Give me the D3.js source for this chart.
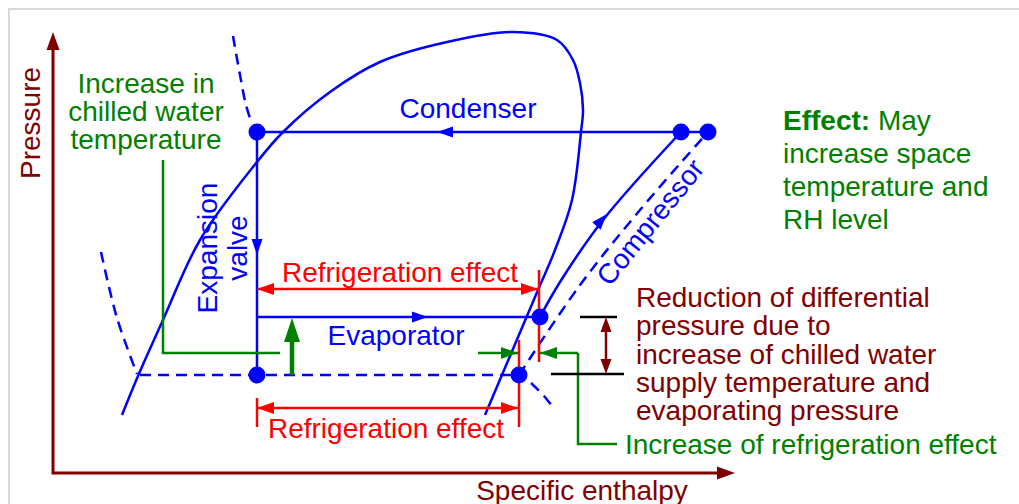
<!DOCTYPE html>
<html>
<head>
<meta charset="utf-8">
<script src="https://cdn.jsdelivr.net/npm/d3@7"></script>
<style>
  body { margin: 0; background: #fff; }
  svg { display: block; font-family: "Liberation Sans", Arial, sans-serif; }
</style>
</head>
<body>
<svg id="chart" width="1019" height="504"></svg>
<script>
// all values are in chart units: h = specific enthalpy, P = pressure

// saturation dome, left branch -> top -> right branch
const satDome = [[34.5, 29], [42.5, 48.5], [55, 76.5], [73.5, 116.5], [102, 155.5], [115, 170.5],
  [138.5, 190.5], [163.5, 205.5], [197, 215.5], [230, 220.5], [252, 216.5], [260, 206.5],
  [263.5, 195], [265, 181.5], [264, 170.5], [259.5, 136.5], [251, 111.5], [242.5, 91.5], [216, 29]];

// dashed (original) saturation pieces
const satDashLeftTop = [[90, 218.5], [93.5, 199], [96.5, 184], [99.5, 174.5]];
const satDashLeftLow = [[24, 110.5], [32, 77.5], [42, 49.5]];
const satDashRightLow = [[239, 45], [245.5, 38.5], [251, 31.5]];

// refrigeration cycle
const condenser = [[327.5, 170.5], [102, 170.5]];
const expansion = [[102, 170.5], [102, 49]];
const evapNew = [[102, 78], [243.5, 78]];
const evapOld = [[43.5, 49], [233, 49]];
const compNew = [[243.5, 78], [253.5, 95.5], [275, 126.5], [314, 170.5]];
const compOld = [[233, 49], [263.5, 94], [293.5, 131.5], [327.5, 170.5]];
const statePoints = [[102, 170.5], [314, 170.5], [327.5, 170.5], [102, 49], [233, 49], [243.5, 78]];
// flow arrows: tip h, tip P, direction dh, dP
const flowArrows = [[192, 170.5, -1, 0], [102, 109, 0, -1], [187.5, 78, 1, 0], [277, 129.5, 18.5, 21]];

// refrigeration effect dimensions: h start, h end, P
const effectDims = [[102, 242.5, 92], [102, 232.5, 32.5]];
const effectTicks = [[243, 101.5, 55.5], [102, 37.5, 23], [233, 66.5, 23]];
const effectLabels = [[173.5, 95.5], [166.5, 17.5]];

// green annotations
const chilledLeader = [[55, 156.5], [55, 60], [113.5, 60]];
const chilledArrow = [119.5, 49, 77.5];
const gainArrows = [[212.5, 232.5, 60], [262.5, 243.5, 60]];
const gainLeader = [[262.5, 60], [262.5, 14.5], [282, 14.5]];

// differential pressure marker
const dpLines = [[263.5, 282, 78], [249, 285.5, 49.5]];
const dpArrow = [276.5, 49.5, 78];

const chilledNote = ["Increase in", "chilled water", "temperature"];
const effectNote = ["May", "increase space", "temperature and", "RH level"];
const dpNote = ["Reduction of differential", "pressure due to", "increase of chilled water",
  "supply temperature and", "evaporating pressure"];

const BLUE = "#0000ff", GREEN = "#008000", RED = "#ff0000", DRED = "#800000";
const FS = 28;

const svg = d3.select("#chart");
const x = d3.scaleLinear().domain([0, 341]).range([53, 735]);
const y = d3.scaleLinear().domain([0, 220.5]).range([473, 32]);

const line = d3.line().x(d => x(d[0])).y(d => y(d[1]));
const curve = d3.line().x(d => x(d[0])).y(d => y(d[1])).curve(d3.curveCatmullRom.alpha(0.5));

// outer frame
svg.append("path")
  .attr("d", "M9,504 V9 H1019")
  .attr("fill", "none").attr("stroke", "#d9d9d9").attr("stroke-width", 2);

function arrowHead(g, tx, ty, ang, len, half, color) {
  g.append("path")
    .attr("d", `M0,0 L${-len},${-half} L${-len},${half} Z`)
    .attr("transform", `translate(${tx},${ty}) rotate(${ang})`)
    .attr("fill", color);
}
function angleOf(h, p, dh, dp) {
  return Math.atan2(y(p + dp) - y(p), x(h + dh) - x(h)) * 180 / Math.PI;
}

// axes
const axes = svg.append("g");
axes.append("path")
  .attr("d", `M${x(0)},${y(220.5) + 12} V${y(0)} H${x(341) - 12}`)
  .attr("fill", "none").attr("stroke", DRED).attr("stroke-width", 3);
arrowHead(axes, x(0), y(220.5), -90, 18, 6.5, DRED);
arrowHead(axes, x(341), y(0), 0, 18, 6.5, DRED);

axes.append("text")
  .attr("transform", `translate(${x(-6.5)},${y(175)}) rotate(-90)`)
  .attr("text-anchor", "middle").attr("font-size", FS).attr("fill", DRED)
  .text("Pressure");
axes.append("text")
  .attr("x", x(264.5)).attr("y", y(-13.5))
  .attr("text-anchor", "middle").attr("font-size", FS).attr("fill", DRED)
  .text("Specific enthalpy");

// saturation curves
const sat = svg.append("g").attr("fill", "none").attr("stroke", BLUE).attr("stroke-width", 2.5);
sat.append("path").attr("d", curve(satDome));
[satDashLeftTop, satDashLeftLow, satDashRightLow].forEach(d => {
  sat.append("path").attr("d", curve(d)).attr("stroke-dasharray", "11,7");
});

// cycle
const cyc = svg.append("g").attr("fill", "none").attr("stroke", BLUE).attr("stroke-width", 2.5);
[condenser, expansion, evapNew].forEach(d => cyc.append("path").attr("d", line(d)));
cyc.append("path").attr("d", curve(compNew));
cyc.append("path").attr("d", line(evapOld)).attr("stroke-dasharray", "11,7");
cyc.append("path").attr("d", curve(compOld)).attr("stroke-dasharray", "11,7");

flowArrows.forEach(a => arrowHead(svg, x(a[0]), y(a[1]), angleOf(...a), 16, 5.5, BLUE));

// refrigeration effect
const red = svg.append("g");
effectDims.forEach(d => {
  red.append("path").attr("d", line([[d[0], d[2]], [d[1], d[2]]]))
    .attr("stroke", RED).attr("stroke-width", 2.5);
  arrowHead(red, x(d[0]), y(d[2]), 180, 17, 6, RED);
  arrowHead(red, x(d[1]), y(d[2]), 0, 17, 6, RED);
});
effectTicks.forEach(t => {
  red.append("path").attr("d", line([[t[0], t[1]], [t[0], t[2]]]))
    .attr("stroke", RED).attr("stroke-width", 2.5);
});
effectLabels.forEach(l => {
  red.append("text").attr("x", x(l[0])).attr("y", y(l[1]))
    .attr("text-anchor", "middle").attr("font-size", FS).attr("fill", RED)
    .text("Refrigeration effect");
});

// green annotations
const grn = svg.append("g");
[chilledLeader, gainLeader].forEach(d => {
  grn.append("path").attr("d", line(d)).attr("fill", "none")
    .attr("stroke", GREEN).attr("stroke-width", 2.5);
});
grn.append("path")
  .attr("d", line([[chilledArrow[0], chilledArrow[1]], [chilledArrow[0], chilledArrow[2] - 8]]))
  .attr("stroke", GREEN).attr("stroke-width", 4.5);
arrowHead(grn, x(chilledArrow[0]), y(chilledArrow[2]), -90, 24, 8, GREEN);
gainArrows.forEach(a => {
  grn.append("path").attr("d", line([[a[0], a[2]], [a[1], a[2]]]))
    .attr("stroke", GREEN).attr("stroke-width", 2.5);
  arrowHead(grn, x(a[1]), y(a[2]), a[1] > a[0] ? 0 : 180, 17, 6, GREEN);
});

// differential pressure marker
dpLines.forEach(d => {
  svg.append("path").attr("d", line([[d[0], d[2]], [d[1], d[2]]]))
    .attr("stroke", "#000").attr("stroke-width", 2.5);
});
svg.append("path").attr("d", line([[dpArrow[0], dpArrow[1] + 4], [dpArrow[0], dpArrow[2] - 4]]))
  .attr("stroke", DRED).attr("stroke-width", 2.5);
arrowHead(svg, x(dpArrow[0]), y(dpArrow[2]), -90, 15, 5.5, DRED);
arrowHead(svg, x(dpArrow[0]), y(dpArrow[1]), 90, 15, 5.5, DRED);

// state points
svg.append("g").selectAll("circle")
  .data(statePoints).join("circle")
  .attr("cx", d => x(d[0])).attr("cy", d => y(d[1]))
  .attr("r", 8.5).attr("fill", BLUE);

// blue labels
const lbl = svg.append("g").attr("font-size", FS).attr("fill", BLUE);
lbl.append("text").attr("x", x(207.5)).attr("y", y(177.5))
  .attr("text-anchor", "middle").text("Condenser");
lbl.append("text").attr("x", x(171.5)).attr("y", y(64))
  .attr("text-anchor", "middle").text("Evaporator");
lbl.append("text").attr("transform", `translate(${x(82)},${y(112.5)}) rotate(-90)`)
  .attr("text-anchor", "middle").text("Expansion");
lbl.append("text").attr("transform", `translate(${x(97)},${y(112.5)}) rotate(-90)`)
  .attr("text-anchor", "middle").text("valve");
lbl.append("text").attr("transform", `translate(${x(298.5)},${y(125.5)}) rotate(-51)`)
  .attr("text-anchor", "middle").attr("dy", "0.35em").text("Compressor");

// notes
const note1 = svg.append("text").attr("font-size", FS).attr("fill", GREEN).attr("text-anchor", "middle");
chilledNote.forEach((t, i) => {
  note1.append("tspan").attr("x", x(46.5)).attr("y", y(190 - 14 * i)).text(t);
});

const note2 = svg.append("text").attr("font-size", FS).attr("fill", GREEN);
effectNote.forEach((t, i) => {
  const row = note2.append("tspan").attr("x", x(365)).attr("y", y(171.5 - 16.5 * i));
  if (i === 0) {
    row.append("tspan").attr("font-weight", "bold").text("Effect: ");
    row.append("tspan").text(t);
  } else {
    row.text(t);
  }
});

const note3 = svg.append("text").attr("font-size", FS).attr("fill", DRED);
dpNote.forEach((t, i) => {
  note3.append("tspan").attr("x", x(291.5)).attr("y", y(83 - 14.15 * i)).text(t);
});

svg.append("text").attr("x", x(286)).attr("y", y(9.5))
  .attr("font-size", FS).attr("fill", GREEN)
  .text("Increase of refrigeration effect");
</script>
</body>
</html>
